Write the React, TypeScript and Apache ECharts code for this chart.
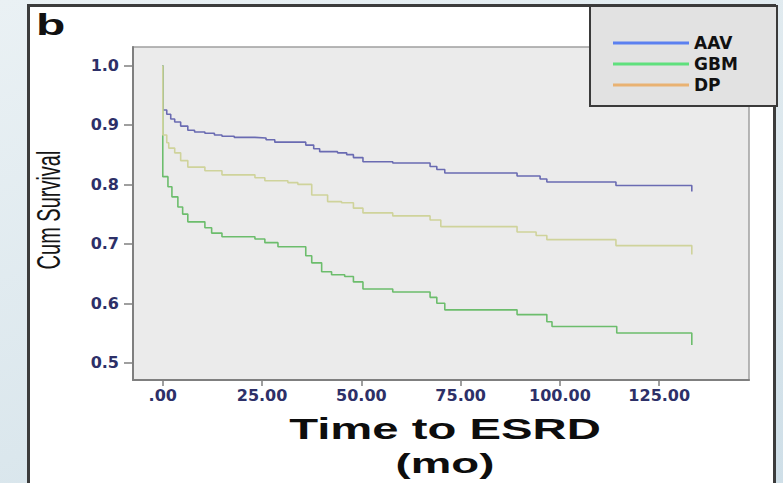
import React, { useEffect, useRef } from "react";
import * as echarts from "echarts";

const seriesNames = ["AAV", "GBM", "DP"];
const lineColors = ["#6a6bb2", "#6cbd6c", "#cfd39b"];
const legendColors = ["#5b80f0", "#5fe07d", "#e9b272"];

const aav: [number, number][] = [
  [0, 1.0], [0, 0.925], [1, 0.918], [2, 0.91], [3, 0.905], [4.5, 0.898], [6.3, 0.891],
  [8, 0.888], [10.6, 0.886], [13, 0.883], [14.9, 0.881], [18, 0.879], [23.2, 0.878],
  [26, 0.875], [28.2, 0.871], [34, 0.871], [36, 0.866], [38, 0.86], [39.5, 0.855],
  [44, 0.853], [46.3, 0.85], [48, 0.845], [50.4, 0.838], [57.9, 0.836], [67.3, 0.83],
  [69, 0.825], [71, 0.819], [89.2, 0.814], [95, 0.809], [96.7, 0.804], [114.1, 0.798],
  [133.2, 0.798], [133.2, 0.788],
];

const gbm: [number, number][] = [
  [0, 1.0], [0, 0.813], [1.3, 0.796], [2.3, 0.779], [3.8, 0.762], [5, 0.75], [6.3, 0.737],
  [10.6, 0.727], [12.3, 0.718], [14.9, 0.712], [23.2, 0.708], [25.7, 0.702], [29, 0.695],
  [36, 0.68], [37.5, 0.668], [40, 0.653], [42.5, 0.648], [45.8, 0.645], [48, 0.636],
  [50.4, 0.624], [57.9, 0.619], [67.3, 0.61], [69, 0.6], [71, 0.589], [89.2, 0.581],
  [96.7, 0.569], [98, 0.561], [114.3, 0.55], [133.2, 0.55], [133.2, 0.53],
];

const dp: [number, number][] = [
  [0, 1.0], [0, 0.883], [1, 0.87], [1.5, 0.861], [3, 0.853], [4.5, 0.84], [6.3, 0.829],
  [10.6, 0.823], [14.9, 0.816], [23.2, 0.811], [25.7, 0.806], [31.5, 0.803], [34, 0.8],
  [37.5, 0.782], [41.5, 0.771], [45, 0.769], [48, 0.76], [50.4, 0.752], [57.9, 0.747],
  [67.3, 0.74], [70, 0.729], [89.2, 0.72], [94, 0.714], [96.7, 0.707], [114.1, 0.697],
  [133.2, 0.697], [133.2, 0.682],
];

const xTicks = [0, 25, 50, 75, 100, 125];
const yTicks = [0.5, 0.6, 0.7, 0.8, 0.9, 1.0];

export default function App() {
  const ref = useRef<HTMLDivElement>(null);
  useEffect(() => {
    if (!ref.current) return;
    const chart = echarts.init(ref.current, null, { renderer: "svg" });
    const allData = [aav, gbm, dp];
    chart.setOption({
      animation: false,
      backgroundColor: "transparent",
      grid: {
        left: 133,
        top: 47,
        right: 34,
        bottom: 103,
        show: true,
        backgroundColor: "#ebebeb",
        borderColor: "#a0a0a0",
        borderWidth: 1.5,
      },
      xAxis: {
        type: "value",
        min: -7.5,
        max: 147.6,
        splitLine: { show: false },
        axisLine: { onZero: false, lineStyle: { color: "#7f7f7f", width: 2 } },
        axisTick: { customValues: xTicks, length: 6, lineStyle: { color: "#7f7f7f", width: 1.5 } },
        axisLabel: {
          customValues: xTicks,
          margin: 7,
          fontFamily: "DejaVu Sans",
          fontWeight: "bold",
          fontSize: 16,
          color: "#2d3068",
          formatter: (v: number) => (v === 0 ? ".00" : v.toFixed(2)),
        },
      },
      yAxis: {
        type: "value",
        min: 0.471,
        max: 1.031,
        splitLine: { show: false },
        axisLine: { onZero: false, lineStyle: { color: "#7f7f7f", width: 2 } },
        axisTick: { customValues: yTicks, length: 9, lineStyle: { color: "#7f7f7f", width: 1.5 } },
        axisLabel: {
          customValues: yTicks,
          margin: 14,
          fontFamily: "DejaVu Sans",
          fontWeight: "bold",
          fontSize: 16,
          color: "#2d3068",
          formatter: (v: number) => v.toFixed(1),
        },
      },
      legend: {
        orient: "vertical",
        left: 608,
        top: 29,
        itemWidth: 76,
        itemHeight: 3,
        itemGap: 3,
        z: 6,
        textStyle: {
          fontFamily: "DejaVu Sans",
          fontWeight: "bold",
          fontSize: 17,
          lineHeight: 18,
          color: "#111",
        },
        data: seriesNames.map((n, i) => ({
          name: n,
          icon: "rect",
          itemStyle: { color: legendColors[i] },
        })),
      },
      graphic: [
        {
          type: "text",
          left: 36,
          top: 10,
          z: 5,
          style: {
            text: "b",
            font: "bold 30px 'Liberation Sans', Arial, sans-serif",
            fill: "#111",
          },
          scaleX: 1.6,
        },
        {
          type: "text",
          x: 48,
          y: 210,
          rotation: Math.PI / 2,
          scaleY: 1.7,
          z: 5,
          style: {
            text: "Cum Survival",
            font: "20px 'Liberation Sans', Arial, sans-serif",
            fill: "#151515",
            align: "center",
            verticalAlign: "middle",
          },
        },
        {
          type: "text",
          x: 445,
          y: 429,
          scaleX: 1.63,
          z: 5,
          style: {
            text: "Time to ESRD",
            font: "bold 29px 'Liberation Sans', Arial, sans-serif",
            fill: "#0d0d0d",
            align: "center",
            verticalAlign: "middle",
          },
        },
        {
          type: "text",
          x: 445,
          y: 463,
          scaleX: 1.63,
          z: 5,
          style: {
            text: "(mo)",
            font: "bold 28px 'Liberation Sans', Arial, sans-serif",
            fill: "#0d0d0d",
            align: "center",
            verticalAlign: "middle",
          },
        },
        {
          type: "rect",
          z: 4,
          shape: { x: 590, y: 6, width: 187, height: 100 },
          style: { fill: "#e2e2e2", stroke: "#3a3a3a", lineWidth: 2 },
        },
      ],
      series: allData.map((d, i) => ({
        name: seriesNames[i],
        type: "line",
        step: "end",
        data: d,
        showSymbol: false,
        symbol: "none",
        lineStyle: { color: lineColors[i], width: 1.6 },
        itemStyle: { color: lineColors[i] },
        z: 2,
      })),
    });
    return () => chart.dispose();
  }, []);

  return (
    <div
      style={{
        position: "fixed",
        left: 0,
        top: 0,
        width: 783,
        height: 483,
        overflow: "hidden",
        background: "linear-gradient(160deg, #eaf1f4 0%, #dbe7ed 60%, #cfdfe8 100%)",
      }}
    >
      <div
        style={{
          position: "absolute",
          left: 27,
          top: 4,
          width: 743,
          height: 520,
          background: "#ffffff",
          border: "3px solid #3c3c3c",
        }}
      />
      <div ref={ref} style={{ position: "absolute", left: 0, top: 0, width: 783, height: 483 }} />
    </div>
  );
}
